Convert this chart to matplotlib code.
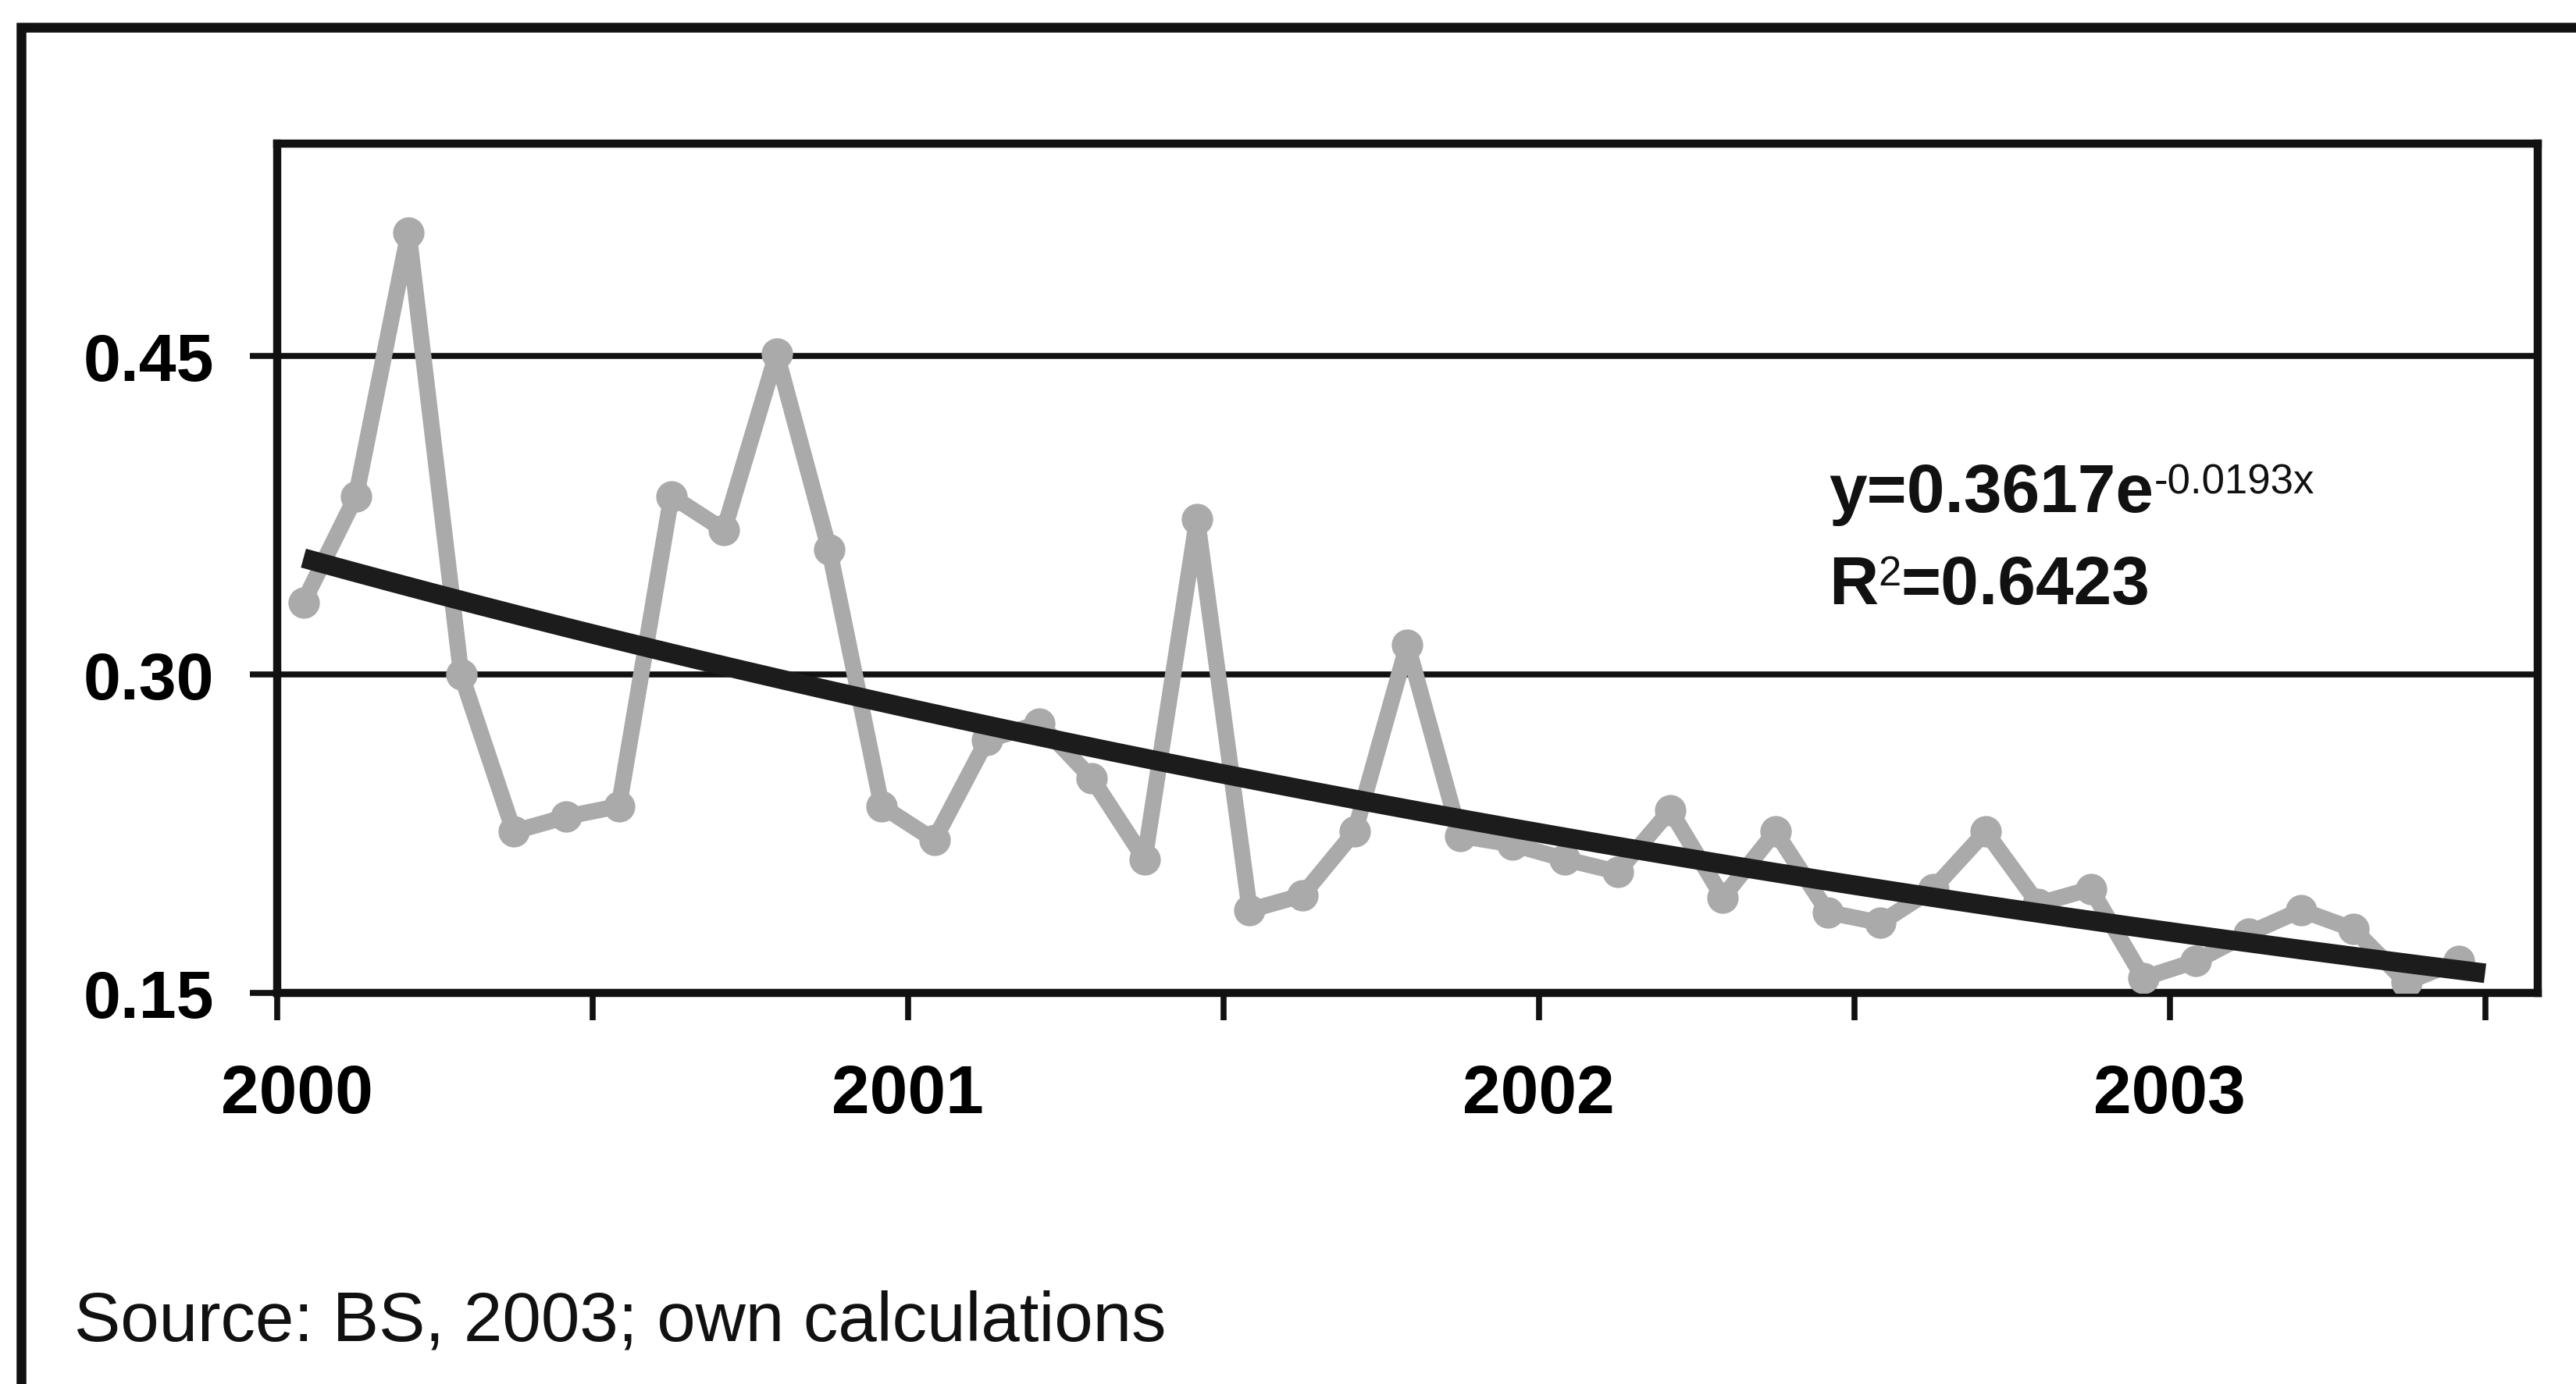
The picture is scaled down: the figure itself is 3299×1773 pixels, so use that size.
import numpy as np
import matplotlib
matplotlib.use('Agg')
import matplotlib.pyplot as plt
from matplotlib.lines import Line2D
from matplotlib.transforms import ScaledTranslation

# monthly index values, Jan 2000 - Jun 2003
months = list(range(1, 43))
values = [0.334, 0.384, 0.508, 0.300, 0.226, 0.233, 0.238, 0.384, 0.368, 0.451,
          0.359, 0.238, 0.222, 0.269, 0.277, 0.251, 0.213, 0.373, 0.189, 0.196,
          0.226, 0.314, 0.224, 0.220, 0.213, 0.207, 0.236, 0.195, 0.226, 0.188,
          0.183, 0.199, 0.226, 0.192, 0.199, 0.157, 0.165, 0.178, 0.189, 0.180,
          0.155, 0.165]
years = ['2000', '2001', '2002', '2003']
y_ticks = [0.15, 0.30, 0.45]

# exponential trend y = a * exp(b * x)
fit_a = 0.3617
fit_b = -0.0193
fit_r2 = 0.6423

plt.rcParams['font.family'] = ['Liberation Sans', 'DejaVu Sans']

fig = plt.figure(figsize=(32.99, 17.74), dpi=100)
fig.patch.set_facecolor('white')

# outer frame (left and top edges only)
fx = 27 / 3299
fy = 1 - 36 / 1774
fig.add_artist(Line2D([fx, fx, 1.0], [0.0, fy, fy], transform=fig.transFigure,
                      color='#111111', lw=9, solid_joinstyle='miter'))

ax = fig.add_axes([0.1076, 0.2824, 0.8775, 0.6133])
ax.set_xlim(0, 43)
ax.set_ylim(0.15, 0.55)

# categories are centred between ticks
xpos = [m - 0.5 for m in months]
ax.plot(xpos, values, color='#aaaaaa', lw=15, marker='o', markersize=28,
        markerfacecolor='#aaaaaa', markeredgecolor='#aaaaaa', zorder=3,
        solid_joinstyle='round')

xt = np.linspace(1, 42.5, 300)
ax.plot(xt - 0.5, fit_a * np.exp(fit_b * xt), color='#1c1c1c', lw=18,
        solid_capstyle='butt', zorder=4)

ax.set_yticks(y_ticks)
ax.set_yticklabels(['%.2f' % v for v in y_ticks], fontsize=62, fontweight='bold')
ax.set_xticks([0, 12, 24, 36])
ax.set_xticklabels(years, fontsize=63, fontweight='bold')
ax.set_xticks([6, 18, 30, 42], minor=True)

ax.tick_params(axis='both', which='both', direction='out', length=25, width=5.5,
               color='#111111')
ax.tick_params(axis='y', pad=33)
ax.tick_params(axis='x', pad=40)

# first year label sits a little right of its tick
first = ax.get_xticklabels()[0]
first.set_transform(first.get_transform() +
                    ScaledTranslation(0.25, 0, fig.dpi_scale_trans))

ax.grid(axis='y', color='#111111', lw=5.5)
ax.set_axisbelow(True)
for sp in ax.spines.values():
    sp.set_linewidth(7.5)
    sp.set_color('#111111')

# equation of the trend line
t1 = fig.text(0.710, 0.630, 'y=%.4fe' % fit_a, fontsize=63, fontweight='bold',
              color='#111111')
ax.annotate('%.4fx' % fit_b, xy=(1.0, 1.0), xycoords=t1, ha='left', va='top',
            fontsize=38, color='#111111')
t2 = fig.text(0.710, 0.5637, 'R', fontsize=63, fontweight='bold', color='#111111')
t3 = ax.annotate('2', xy=(1.0, 1.0), xycoords=t2, ha='left', va='top',
                 fontsize=38, color='#111111')
ax.annotate('=%.4f' % fit_r2, xy=(1.0, 0.0), xycoords=(t3, t2), ha='left',
            va='bottom', fontsize=63, fontweight='bold', color='#111111',
            annotation_clip=False)

fig.text(0.0288, 0.032, 'Source: BS, 2003; own calculations', fontsize=64,
         color='#111111')

fig.savefig('out.png', dpi=100, facecolor='white')
